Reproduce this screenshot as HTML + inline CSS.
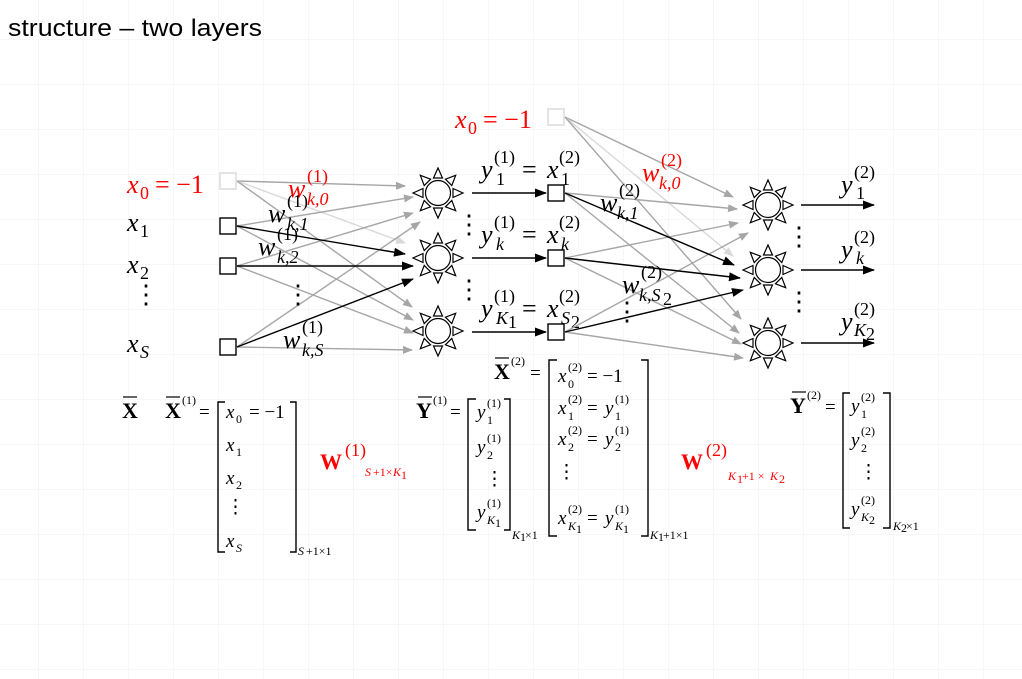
<!DOCTYPE html>
<html><head><meta charset="utf-8"><style>
html,body{margin:0;padding:0;background:#fff}
svg{display:block}
.t{font-family:"Liberation Serif",serif;font-style:italic;font-size:26px}
.s{font-family:"Liberation Serif",serif;font-size:18px}
.si{font-family:"Liberation Serif",serif;font-style:italic;font-size:18px}
.u{font-family:"Liberation Serif",serif;font-size:26px}
.r{fill:#ff0000}
.m{font-family:"Liberation Serif",serif;font-style:italic;font-size:19px}
.mu{font-family:"Liberation Serif",serif;font-size:19px}
.ms{font-family:"Liberation Serif",serif;font-size:12px}
.msi{font-family:"Liberation Serif",serif;font-style:italic;font-size:12px}
.b{font-family:"Liberation Serif",serif;font-weight:bold;font-size:22px}
</style></head><body>
<svg width="1022" height="679" viewBox="0 0 1022 679" xmlns="http://www.w3.org/2000/svg">
<defs>
<pattern id="grid" x="38" y="39" width="45" height="45" patternUnits="userSpaceOnUse">
<path d="M0 0H45M0 0V45" stroke="#efefef" stroke-width="1" fill="none"/>
</pattern>
<marker id="ag" markerWidth="10" markerHeight="8" refX="9" refY="4" orient="auto" markerUnits="userSpaceOnUse"><path d="M0,0L10,4L0,8z" fill="#a6a6a6"/></marker>
<marker id="ab" markerWidth="12" markerHeight="9" refX="11" refY="4.5" orient="auto" markerUnits="userSpaceOnUse"><path d="M0,0L12,4.5L0,9z" fill="#000"/></marker>
<marker id="al" markerWidth="10" markerHeight="8" refX="9" refY="4" orient="auto" markerUnits="userSpaceOnUse"><path d="M0,0L10,4L0,8z" fill="#d9d9d9"/></marker>
<g id="nr" fill="#fff" stroke="#000" stroke-width="1.2">
<circle r="12.5"/>
<polygon points="15,-4.5 15,4.5 25,0"/>
<polygon points="15,-4.5 15,4.5 25,0" transform="rotate(45)"/>
<polygon points="15,-4.5 15,4.5 25,0" transform="rotate(90)"/>
<polygon points="15,-4.5 15,4.5 25,0" transform="rotate(135)"/>
<polygon points="15,-4.5 15,4.5 25,0" transform="rotate(180)"/>
<polygon points="15,-4.5 15,4.5 25,0" transform="rotate(225)"/>
<polygon points="15,-4.5 15,4.5 25,0" transform="rotate(270)"/>
<polygon points="15,-4.5 15,4.5 25,0" transform="rotate(315)"/>
</g>
</defs>
<rect width="1022" height="679" fill="url(#grid)"/>
<text x="8" y="36" font-family="Liberation Sans, sans-serif" font-size="24" textLength="254" lengthAdjust="spacingAndGlyphs">structure – two layers</text>

<g stroke-width="1.4" fill="none">
<line x1="237" y1="181" x2="405" y2="186" stroke="#a6a6a6" marker-end="url(#ag)"/>
<line x1="237" y1="181" x2="405" y2="243" stroke="#d9d9d9" marker-end="url(#al)"/>
<line x1="237" y1="181" x2="412" y2="307" stroke="#a6a6a6" marker-end="url(#ag)"/>
<line x1="237" y1="226" x2="413" y2="197" stroke="#a6a6a6" marker-end="url(#ag)"/>
<line x1="237" y1="226" x2="413" y2="320" stroke="#a6a6a6" marker-end="url(#ag)"/>
<line x1="237" y1="266" x2="413" y2="213" stroke="#a6a6a6" marker-end="url(#ag)"/>
<line x1="237" y1="266" x2="413" y2="333" stroke="#a6a6a6" marker-end="url(#ag)"/>
<line x1="237" y1="347" x2="420" y2="222" stroke="#a6a6a6" marker-end="url(#ag)"/>
<line x1="237" y1="347" x2="412" y2="350" stroke="#a6a6a6" marker-end="url(#ag)"/>
<line x1="237" y1="226" x2="405" y2="254" stroke="#000" marker-end="url(#ab)"/>
<line x1="237" y1="266" x2="413" y2="266" stroke="#000" marker-end="url(#ab)"/>
<line x1="237" y1="347" x2="413" y2="279" stroke="#000" marker-end="url(#ab)"/>
</g>
<rect x="220" y="173" width="16" height="16" fill="#fff" stroke="#d9d9d9" stroke-width="1.4"/>
<rect x="220" y="218" width="16" height="16" fill="#fff" stroke="#000" stroke-width="1.4"/>
<rect x="220" y="258" width="16" height="16" fill="#fff" stroke="#000" stroke-width="1.4"/>
<rect x="220" y="339" width="16" height="16" fill="#fff" stroke="#000" stroke-width="1.4"/>
<text class="t r" x="127" y="193">x</text><text class="s r" x="140" y="199">0</text><text class="u r" x="155" y="193">= −1</text>
<text class="t" x="127" y="231">x</text><text class="s" x="140" y="237">1</text>
<text class="t" x="127" y="273">x</text><text class="s" x="140" y="279">2</text>
<text class="u" x="133" y="303">⋮</text>
<text class="t" x="127" y="352">x</text><text class="si" x="140" y="358">S</text>
<text class="t r" x="288" y="197">w</text><text class="s r" x="307" y="182">(1)</text><text class="si r" x="307" y="205">k,0</text>
<text class="t" x="268" y="222">w</text><text class="s" x="287" y="207">(1)</text><text class="si" x="287" y="230">k,1</text>
<text class="t" x="258" y="255">w</text><text class="s" x="277" y="240">(1)</text><text class="si" x="277" y="263">k,2</text>
<text class="t" x="283" y="348">w</text><text class="s" x="302" y="333">(1)</text><text class="si" x="302" y="356">k,S</text>
<text class="u" x="285" y="303" font-size="20">⋮</text>
<use href="#nr" x="438" y="193"/>
<use href="#nr" x="438" y="258"/>
<use href="#nr" x="438" y="331"/>
<text class="u" x="456" y="233" font-size="20">⋮</text>
<text class="u" x="456" y="298" font-size="20">⋮</text>
<g stroke="#000" stroke-width="1.4">
<line x1="472" y1="193" x2="546" y2="193" marker-end="url(#ab)"/>
<line x1="472" y1="258" x2="546" y2="258" marker-end="url(#ab)"/>
<line x1="472" y1="332" x2="546" y2="332" marker-end="url(#ab)"/>
</g>
<text class="t" x="481" y="178">y</text><text class="s" x="494" y="163">(1)</text><text class="s" x="496" y="185">1</text><text class="u" x="522" y="178">=</text><text class="t" x="547" y="178">x</text><text class="s" x="559" y="163">(2)</text><text class="s" x="561" y="185">1</text>
<text class="t" x="481" y="243">y</text><text class="s" x="494" y="228">(1)</text><text class="si" x="496" y="250">k</text><text class="u" x="522" y="243">=</text><text class="t" x="547" y="243">x</text><text class="s" x="559" y="228">(2)</text><text class="si" x="561" y="250">k</text>
<text class="t" x="481" y="317">y</text><text class="s" x="494" y="302">(1)</text><text class="si" x="496" y="324">K</text><text class="s" x="508" y="328" font-size="11">1</text><text class="u" x="522" y="317">=</text><text class="t" x="547" y="317">x</text><text class="s" x="559" y="302">(2)</text><text class="si" x="561" y="324">S</text><text class="s" x="571" y="328" font-size="11">2</text>
<g stroke-width="1.4" fill="none">
<line x1="565" y1="117" x2="733" y2="197" stroke="#a6a6a6" marker-end="url(#ag)"/>
<line x1="565" y1="117" x2="733" y2="256" stroke="#d9d9d9" marker-end="url(#al)"/>
<line x1="565" y1="117" x2="741" y2="319" stroke="#a6a6a6" marker-end="url(#ag)"/>
<line x1="565" y1="193" x2="737" y2="209" stroke="#a6a6a6" marker-end="url(#ag)"/>
<line x1="565" y1="193" x2="739" y2="333" stroke="#a6a6a6" marker-end="url(#ag)"/>
<line x1="565" y1="258" x2="738" y2="223" stroke="#a6a6a6" marker-end="url(#ag)"/>
<line x1="565" y1="258" x2="741" y2="344" stroke="#a6a6a6" marker-end="url(#ag)"/>
<line x1="565" y1="332" x2="748" y2="233" stroke="#a6a6a6" marker-end="url(#ag)"/>
<line x1="565" y1="332" x2="743" y2="358" stroke="#a6a6a6" marker-end="url(#ag)"/>
<line x1="565" y1="193" x2="734" y2="265" stroke="#000" marker-end="url(#ab)"/>
<line x1="565" y1="258" x2="740" y2="278" stroke="#000" marker-end="url(#ab)"/>
<line x1="565" y1="332" x2="743" y2="290" stroke="#000" marker-end="url(#ab)"/>
</g>
<rect x="548" y="109" width="16" height="16" fill="#fff" stroke="#d9d9d9" stroke-width="1.4"/>
<rect x="548" y="185" width="16" height="16" fill="#fff" stroke="#000" stroke-width="1.4"/>
<rect x="548" y="250" width="16" height="16" fill="#fff" stroke="#000" stroke-width="1.4"/>
<rect x="548" y="324" width="16" height="16" fill="#fff" stroke="#000" stroke-width="1.4"/>
<text class="t r" x="455" y="128">x</text><text class="s r" x="468" y="134">0</text><text class="u r" x="483" y="128">= −1</text>
<text class="t r" x="642" y="181">w</text><text class="s r" x="661" y="166">(2)</text><text class="si r" x="659" y="189">k,0</text>
<text class="t" x="600" y="211">w</text><text class="s" x="619" y="196">(2)</text><text class="si" x="617" y="219">k,1</text>
<text class="t" x="622" y="293">w</text><text class="s" x="641" y="278">(2)</text><text class="si" x="639" y="301">k,S</text><text class="s" x="663" y="305" font-size="11">2</text>
<text class="u" x="614" y="320" font-size="20">⋮</text>
<use href="#nr" x="768" y="205"/>
<use href="#nr" x="768" y="270"/>
<use href="#nr" x="768" y="343"/>
<text class="u" x="786" y="245" font-size="20">⋮</text>
<text class="u" x="786" y="310" font-size="20">⋮</text>
<g stroke="#000" stroke-width="1.4">
<line x1="801" y1="205" x2="874" y2="205" marker-end="url(#ab)"/>
<line x1="801" y1="270" x2="874" y2="270" marker-end="url(#ab)"/>
<line x1="801" y1="343" x2="874" y2="343" marker-end="url(#ab)"/>
</g>
<text class="t" x="841" y="193">y</text><text class="s" x="854" y="178">(2)</text><text class="s" x="856" y="199">1</text>
<text class="t" x="841" y="258">y</text><text class="s" x="854" y="243">(2)</text><text class="si" x="856" y="264">k</text>
<text class="t" x="841" y="330">y</text><text class="s" x="854" y="315">(2)</text><text class="si" x="854" y="336">K</text><text class="s" x="866" y="340" font-size="11">2</text>

<g fill="none" stroke="#000" stroke-width="1.4">
<path d="M225 402H218V552H225M290 402H296V552H290"/>
<path d="M476 399H468V530H476M504 399H510V530H504"/>
<path d="M557 360H549V536H557M641 360H648V536H641"/>
<path d="M850 393H843V528H850M883 393H890V528H883"/>
</g>
<g stroke="#000" stroke-width="1.2">
<line x1="123" y1="397" x2="137" y2="397"/>
<line x1="166" y1="397" x2="180" y2="397"/>
<line x1="418" y1="397" x2="432" y2="397"/>
<line x1="495" y1="358" x2="509" y2="358"/>
<line x1="792" y1="392" x2="806" y2="392"/>
</g>
<text class="b" x="122" y="418">X</text>
<text class="b" x="165" y="418">X</text><text class="ms" x="182" y="404">(1)</text><text class="mu" x="199" y="418">=</text>
<text class="m" x="226" y="418">x</text><text class="ms" x="236" y="423">0</text><text class="mu" x="249" y="418">= −1</text>
<text class="m" x="226" y="451">x</text><text class="ms" x="236" y="456">1</text>
<text class="m" x="226" y="484">x</text><text class="ms" x="236" y="489">2</text>
<text class="mu" x="226" y="513">⋮</text>
<text class="m" x="226" y="547">x</text><text class="msi" x="236" y="552">S</text>
<text class="msi" x="298" y="555">S</text><text class="ms" x="306" y="555">+1×1</text>
<text class="b r" x="320" y="469" font-size="26">W</text><text class="s r" x="345" y="456">(1)</text><text class="msi r" x="365" y="476">S</text><text class="ms r" x="373" y="476">+1×</text><text class="msi r" x="393" y="476">K</text><text class="ms r" x="401" y="479" font-size="9">1</text>

<text class="b" x="416" y="418">Y</text><text class="ms" x="433" y="404">(1)</text><text class="mu" x="450" y="418">=</text>
<text class="m" x="477" y="418">y</text><text class="ms" x="487" y="407">(1)</text><text class="ms" x="487" y="424">1</text>
<text class="m" x="477" y="453">y</text><text class="ms" x="487" y="442">(1)</text><text class="ms" x="487" y="459">2</text>
<text class="mu" x="485" y="485">⋮</text>
<text class="m" x="477" y="518">y</text><text class="ms" x="487" y="507">(1)</text><text class="msi" x="487" y="524">K</text><text class="ms" x="495" y="527" font-size="8">1</text>
<text class="msi" x="512" y="539">K</text><text class="ms" x="520" y="541" font-size="8">1</text><text class="ms" x="525" y="539">×1</text>

<text class="b" x="494" y="379">X</text><text class="ms" x="511" y="365">(2)</text><text class="mu" x="530" y="379">=</text>
<text class="m" x="558" y="382">x</text><text class="ms" x="568" y="371">(2)</text><text class="ms" x="568" y="388">0</text><text class="mu" x="587" y="382">= −1</text>
<text class="m" x="558" y="414">x</text><text class="ms" x="568" y="403">(2)</text><text class="ms" x="568" y="420">1</text><text class="mu" x="587" y="414">=</text><text class="m" x="605" y="414">y</text><text class="ms" x="615" y="403">(1)</text><text class="ms" x="615" y="420">1</text>
<text class="m" x="558" y="445">x</text><text class="ms" x="568" y="434">(2)</text><text class="ms" x="568" y="451">2</text><text class="mu" x="587" y="445">=</text><text class="m" x="605" y="445">y</text><text class="ms" x="615" y="434">(1)</text><text class="ms" x="615" y="451">2</text>
<text class="mu" x="557" y="478">⋮</text>
<text class="m" x="558" y="524">x</text><text class="ms" x="568" y="513">(2)</text><text class="msi" x="568" y="530">K</text><text class="ms" x="576" y="533" font-size="8">1</text><text class="mu" x="587" y="524">=</text><text class="m" x="605" y="524">y</text><text class="ms" x="615" y="513">(1)</text><text class="msi" x="615" y="530">K</text><text class="ms" x="623" y="533" font-size="8">1</text>
<text class="msi" x="650" y="539">K</text><text class="ms" x="658" y="541" font-size="8">1</text><text class="ms" x="663" y="539">+1×1</text>
<text class="b r" x="681" y="469" font-size="26">W</text><text class="s r" x="706" y="456">(2)</text><text class="msi r" x="728" y="480">K</text><text class="ms r" x="737" y="483" font-size="9">1</text><text class="ms r" x="742" y="480">+1 × </text><text class="msi r" x="770" y="480">K</text><text class="ms r" x="779" y="483" font-size="9">2</text>

<text class="b" x="790" y="413">Y</text><text class="ms" x="807" y="399">(2)</text><text class="mu" x="825" y="413">=</text>
<text class="m" x="851" y="412">y</text><text class="ms" x="861" y="401">(2)</text><text class="ms" x="861" y="418">1</text>
<text class="m" x="851" y="446">y</text><text class="ms" x="861" y="435">(2)</text><text class="ms" x="861" y="452">2</text>
<text class="mu" x="859" y="478">⋮</text>
<text class="m" x="851" y="515">y</text><text class="ms" x="861" y="504">(2)</text><text class="msi" x="861" y="521">K</text><text class="ms" x="869" y="524" font-size="8">2</text>
<text class="msi" x="893" y="530">K</text><text class="ms" x="901" y="532" font-size="8">2</text><text class="ms" x="906" y="530">×1</text>
</svg>
</body></html>
